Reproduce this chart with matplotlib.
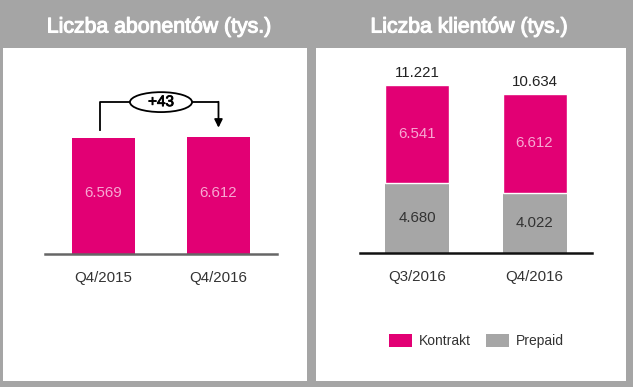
import matplotlib
matplotlib.use("Agg")
import matplotlib.pyplot as plt
import matplotlib.patheffects as pe
from matplotlib.patches import Ellipse, Patch

plt.rcParams['font.family'] = ['Liberation Sans', 'DejaVu Sans']

# ---- data ----
left_title = "Liczba abonentów (tys.)"
right_title = "Liczba klientów (tys.)"
left_categories = ["Q4/2015", "Q4/2016"]
left_values = [6.569, 6.612]
left_labels = ["6.569", "6.612"]
change_label = "+43"

right_categories = ["Q3/2016", "Q4/2016"]
prepaid = [4.680, 4.022]
kontrakt = [6.541, 6.612]
prepaid_labels = ["4.680", "4.022"]
kontrakt_labels = ["6.541", "6.612"]
total_labels = ["11.221", "10.634"]
series_names = ["Kontrakt", "Prepaid"]

# ---- style ----
MAGENTA = "#e20074"
GREY = "#a6a6a6"
BG = "#a5a5a5"
W, H = 633, 387

fig = plt.figure(figsize=(W / 100, H / 100), dpi=100, facecolor=BG)


def px_axes(x0, y0, x1, y1, **kw):
    """axes from pixel box (top-left origin)"""
    return fig.add_axes([x0 / W, 1 - y1 / H, (x1 - x0) / W, (y1 - y0) / H], **kw)


# white panels
for box in [(3, 48, 307, 381), (316, 48, 626, 381)]:
    pa = px_axes(*box)
    pa.set_facecolor("white")
    pa.set_xticks([]); pa.set_yticks([])
    for s in pa.spines.values():
        s.set_visible(False)

# titles
thick = [pe.withStroke(linewidth=0.8, foreground="white")]
fig.text(159 / W, 1 - 27 / H, left_title, color="white", fontsize=15.3,
         ha="center", va="center", path_effects=thick)
fig.text(469 / W, 1 - 27 / H, right_title, color="white", fontsize=15.3,
         ha="center", va="center", path_effects=thick)

# ---- left chart ----
axL = px_axes(45, 60, 277, 254)
axL.patch.set_alpha(0)
xl = [0, 1]
bars = axL.bar(xl, left_values, width=0.548, color=MAGENTA, zorder=2)
axL.set_xlim(-0.509, 1.509)
axL.set_ylim(0, 11.0)
axL.axhline(0, color="#666666", lw=1.8, zorder=3, clip_on=False)
for x, v, lab in zip(xl, left_values, left_labels):
    axL.text(x, v / 2 + 0.15, lab, ha="center", va="center", color="#f7a8d2", fontsize=10.8)
axL.set_xticks(xl)
axL.set_xticklabels(left_categories, fontsize=10.8, color="#333333")
axL.tick_params(length=0, pad=12)
axL.set_yticks([])
for s in axL.spines.values():
    s.set_visible(False)

# change arrow
top = max(left_values)
y_line = top + 2.0
axL.plot([-0.03, -0.03, 0.23], [left_values[0] + 0.45, y_line, y_line], color="black", lw=1.3, zorder=4)
axL.plot([0.77, 1.0], [y_line, y_line], color="black", lw=1.3, zorder=4)
axL.annotate("", xy=(1.0, left_values[1] + 0.55), xytext=(1.0, y_line + 0.02),
             arrowprops=dict(arrowstyle="-|>", color="black", lw=1.3, mutation_scale=12,
                             shrinkA=0, shrinkB=0), zorder=4)
axL.add_patch(Ellipse((0.5, y_line), 0.54, 1.13, facecolor="white", edgecolor="black",
                      lw=1.3, zorder=5))
axL.text(0.5, y_line, change_label, ha="center", va="center", fontsize=11,
         path_effects=[pe.withStroke(linewidth=0.6, foreground="black")], zorder=6)

# ---- right chart ----
axR = px_axes(360, 60, 592, 253)
axR.patch.set_alpha(0)
xr = [0, 1]
b_pre = axR.bar(xr, prepaid, width=0.545, color=GREY, zorder=2)
b_kon = axR.bar(xr, kontrakt, bottom=prepaid, width=0.545, color=MAGENTA,
                edgecolor="white", linewidth=1.0, zorder=2)
axR.set_xlim(-0.485, 1.489)
axR.set_ylim(0, 12.87)
axR.axhline(0, color="#111111", lw=1.8, zorder=3, clip_on=False)
for x, p, k, pl, kl, tl in zip(xr, prepaid, kontrakt, prepaid_labels, kontrakt_labels, total_labels):
    axR.text(x, p / 2, pl, ha="center", va="center", color="#333333", fontsize=10.8)
    axR.text(x, p + k / 2, kl, ha="center", va="center", color="#f7a8d2", fontsize=10.8)
    axR.text(x, p + k + 0.75, tl, ha="center", va="center", color="#222222", fontsize=10.8)
axR.set_xticks(xr)
axR.set_xticklabels(right_categories, fontsize=10.8, color="#333333")
axR.tick_params(length=0, pad=12)
axR.set_yticks([])
for s in axR.spines.values():
    s.set_visible(False)

handles = [Patch(facecolor=MAGENTA), Patch(facecolor=GREY)]
fig.legend(handles, series_names, loc="center", bbox_to_anchor=(476.5 / W, 1 - 341 / H),
           ncol=2, frameon=False, fontsize=10, handlelength=1.65, handleheight=1.08,
           handletextpad=0.5, columnspacing=1.1, labelcolor="#333333")

fig.savefig("out.png", dpi=100, facecolor=BG)
